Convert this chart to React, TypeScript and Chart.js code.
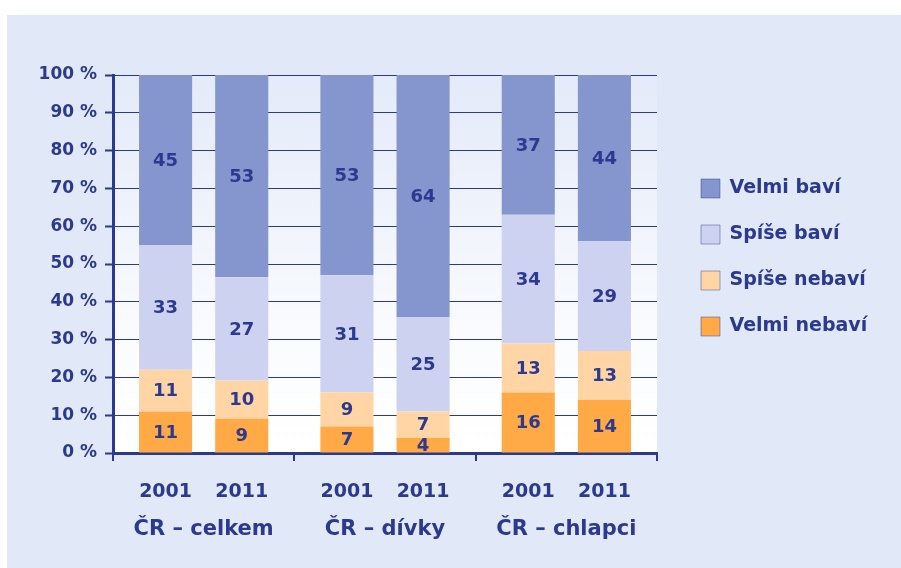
import React, { useEffect, useRef } from 'react';
import { Chart, registerables } from 'chart.js';

Chart.register(...registerables);

// ---- Data ----
const groups = ['ČR – celkem', 'ČR – dívky', 'ČR – chlapci'];
const years = ['2001', '2011'];
const seriesNames = ['Velmi nebaví', 'Spíše nebaví', 'Spíše baví', 'Velmi baví'];
const seriesColors = ['#ffa947', '#ffd5a6', '#ced2f1', '#8595cd'];

// values per group [celkem, dívky, chlapci]
const velmiNebavi2001 = [11, 7, 16];
const velmiNebavi2011 = [9, 4, 14];
const spiseNebavi2001 = [11, 9, 13];
const spiseNebavi2011 = [10, 7, 13];
const spiseBavi2001 = [33, 31, 34];
const spiseBavi2011 = [27, 25, 29];
const velmiBavi2001 = [45, 53, 37];
const velmiBavi2011 = [53, 64, 44];

const yTickValues = [0, 10, 20, 30, 40, 50, 60, 70, 80, 90, 100];

const seriesValues: number[][][] = [
  [velmiNebavi2001, velmiNebavi2011],
  [spiseNebavi2001, spiseNebavi2011],
  [spiseBavi2001, spiseBavi2011],
  [velmiBavi2001, velmiBavi2011],
];

const DARK = '#2b3990';
const FONT = "'DejaVu Sans', sans-serif";

export default function App() {
  const ref = useRef<HTMLCanvasElement | null>(null);

  useEffect(() => {
    if (!ref.current) return;

    const totals = years.map((_, y) =>
      groups.map((_, g) => seriesValues.reduce((a, s) => a + s[y][g], 0))
    );

    const datasets: any[] = [];
    seriesValues.forEach((s, si) => {
      years.forEach((yr, yi) => {
        datasets.push({
          label: seriesNames[si],
          stack: yr,
          raw: s[yi],
          data: s[yi].map((v, g) => (v / totals[yi][g]) * 100),
          backgroundColor: seriesColors[si],
          borderWidth: 0,
          categoryPercentage: 0.84,
          barPercentage: 0.697,
        });
      });
    });

    const bgPlugin = {
      id: 'plotBg',
      beforeDraw(chart: any) {
        const { ctx, chartArea: a } = chart;
        const g = ctx.createLinearGradient(0, a.top, 0, a.bottom);
        g.addColorStop(0, '#e3eaf9');
        g.addColorStop(0.72, '#fbfcfe');
        g.addColorStop(1, '#ffffff');
        ctx.save();
        ctx.fillStyle = g;
        ctx.fillRect(a.left, a.top, a.right - a.left, a.bottom - a.top);
        ctx.restore();
      },
    };

    const valuePlugin = {
      id: 'values',
      afterDatasetsDraw(chart: any) {
        const { ctx } = chart;
        ctx.save();
        ctx.fillStyle = DARK;
        ctx.font = `bold 18px ${FONT}`;
        ctx.textAlign = 'center';
        ctx.textBaseline = 'middle';
        chart.data.datasets.forEach((ds: any, di: number) => {
          const meta = chart.getDatasetMeta(di);
          meta.data.forEach((el: any, i: number) => {
            const p = el.getProps(['x', 'y', 'base'], true);
            ctx.fillText(String(ds.raw[i]), p.x, (p.y + p.base) / 2 + 1);
          });
        });
        ctx.restore();
      },
    };

    const yearPlugin = {
      id: 'years',
      afterDraw(chart: any) {
        const { ctx, chartArea } = chart;
        ctx.save();
        ctx.fillStyle = DARK;
        ctx.font = `bold 19px ${FONT}`;
        ctx.textAlign = 'center';
        ctx.textBaseline = 'middle';
        years.forEach((yr, yi) => {
          const meta = chart.getDatasetMeta(yi);
          meta.data.forEach((el: any) => {
            ctx.fillText(yr, el.x, chartArea.bottom + 39);
          });
        });
        ctx.restore();
      },
    };

    const legendPlacer = {
      id: 'legendPlacer',
      afterLayout(chart: any) {
        const lg = chart.legend;
        if (!lg) return;
        lg.left = 667;
        lg.right = 667 + 220;
        lg.top = 137;
        lg.bottom = 137 + 300;
      },
    };

    const chart = new Chart(ref.current, {
      type: 'bar',
      data: { labels: groups, datasets },
      options: {
        animation: false,
        responsive: false,
        layout: { padding: { top: 60, right: 244, bottom: 0, left: 0 } },
        plugins: {
          tooltip: { enabled: false },
          legend: {
            position: 'chartArea',
            align: 'start',
            reverse: true,
            labels: {
              boxWidth: 19,
              boxHeight: 19,
              padding: 27,
              color: DARK,
              font: { family: FONT, size: 19, weight: 'bold' },
              filter: (item: any, data: any) =>
                data.datasets[item.datasetIndex].stack === '2001',
              generateLabels: (c: any) =>
                Chart.defaults.plugins.legend.labels
                  .generateLabels(c)
                  .map((it: any) => ({
                    ...it,
                    strokeStyle: 'rgba(43,57,144,0.45)',
                    lineWidth: 1,
                  })),
            },
          },
        },
        scales: {
          x: {
            stacked: true,
            offset: true,
            grid: {
              offset: true,
              drawOnChartArea: false,
              drawTicks: true,
              tickLength: 8,
              color: DARK,
              lineWidth: 2,
            },
            border: { display: true, width: 3, color: DARK },
            ticks: {
              color: DARK,
              font: { family: FONT, size: 21, weight: 'bold' },
              padding: 56,
              maxRotation: 0,
              autoSkip: false,
            },
            afterFit: (s: any) => {
              s.height = 115;
            },
          },
          y: {
            stacked: true,
            min: 0,
            max: 100,
            afterBuildTicks: (s: any) => {
              s.ticks = yTickValues.map((v) => ({ value: v }));
            },
            ticks: {
              color: DARK,
              font: { family: FONT, size: 17, weight: 'bold' },
              padding: 8,
              callback: (v: any) => `${v} %`,
              autoSkip: false,
            },
            grid: {
              color: DARK,
              lineWidth: 1,
              tickLength: 8,
              tickWidth: 2,
            },
            border: { display: true, width: 3, color: DARK },
            afterFit: (s: any) => {
              s.width = 106;
            },
          },
        },
      } as any,
      plugins: [bgPlugin, valuePlugin, yearPlugin, legendPlacer],
    });

    return () => chart.destroy();
  }, []);

  return (
    <div
      style={{
        position: 'absolute',
        left: 0,
        top: 0,
        width: 901,
        height: 568,
        background: '#ffffff',
        overflow: 'hidden',
      }}
    >
      <div
        style={{
          position: 'absolute',
          left: 7,
          top: 15,
          width: 894,
          height: 553,
          background: '#e1e9f8',
        }}
      >
        <canvas ref={ref} width={894} height={553} style={{ display: 'block' }} />
      </div>
    </div>
  );
}
